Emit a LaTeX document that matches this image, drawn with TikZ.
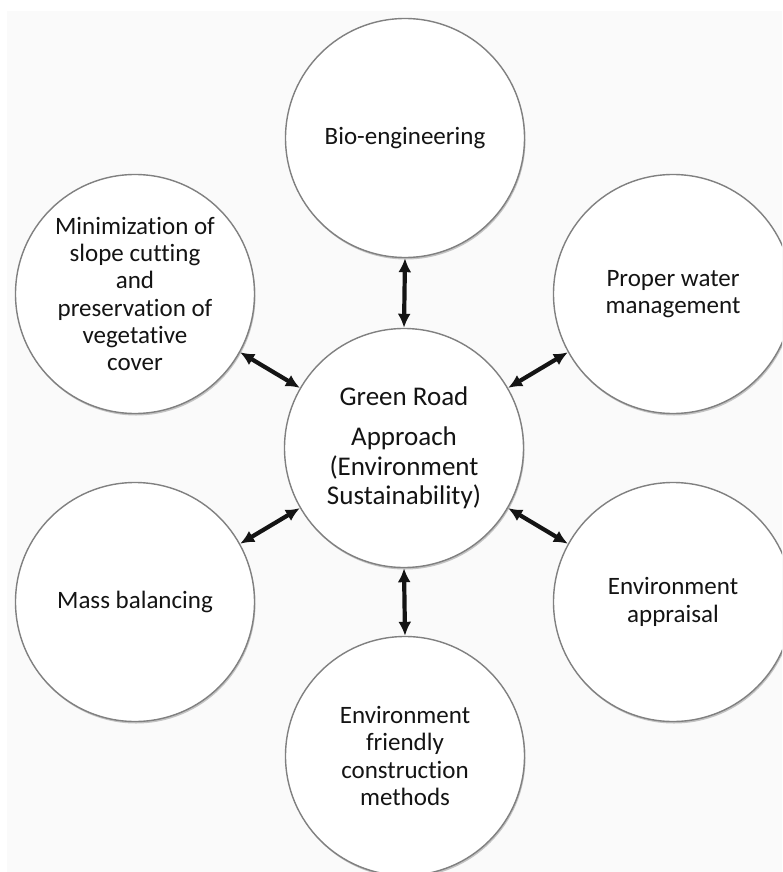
\documentclass[tikz,border=0pt]{standalone}
\usepackage{fontspec}
\setmainfont{Carlito}[Ligatures={NoCommon}]
\usetikzlibrary{arrows.meta,shadows}
\begin{document}
\begin{tikzpicture}[x=1pt,y=-1pt,
  bubble/.style={circle, draw=black!50, line width=1.4pt, fill=white,
    minimum size=239pt, inner sep=0pt, align=center, text=black!92,
    font=\fontsize{25}{27.3}\selectfont,
    drop shadow={shadow xshift=1pt, shadow yshift=-2pt, fill=black, opacity=0.22}},
  hub/.style={bubble, font=\fontsize{27}{29.5}\selectfont},
  link/.style={{Latex[length=14pt,width=13pt]}-{Latex[length=14pt,width=13pt]},
    line width=4.2pt, black!92}
]
\useasboundingbox (0,0) rectangle (782,872);
\clip (0,0) rectangle (782,872);
\fill[white] (0,0) rectangle (782,872);
\fill[black!2] (7,11) rectangle (782,872);

% central theme
\node[hub] (c) at (404,448) {Green Road\\[11pt]Approach\\(Environment\\Sustainability)};

% surrounding measures
\node[bubble] (top) at (405,138) {Bio-engineering};
\node[bubble] (lu)  at (135,294) {Minimization of\\slope cutting\\and\\preservation of\\vegetative\\cover};
\node[bubble] (ru)  at (673,294) {Proper water\\management};
\node[bubble] (ll)  at (135,602) {Mass balancing};
\node[bubble] (rl)  at (673,602) {Environment\\appraisal};
\node[bubble] (bot) at (405,756) {Environment\\friendly\\construction\\methods};

% two-way links
\draw[link] (top.south) -- (c.north);
\draw[link] (c.south) -- (bot.north);
\draw[link] (lu.-29) -- (c.150);
\draw[link] (ru.209) -- (c.30);
\draw[link] (ll.29) -- (c.210);
\draw[link] (rl.151) -- (c.-30);
\end{tikzpicture}
\end{document}
